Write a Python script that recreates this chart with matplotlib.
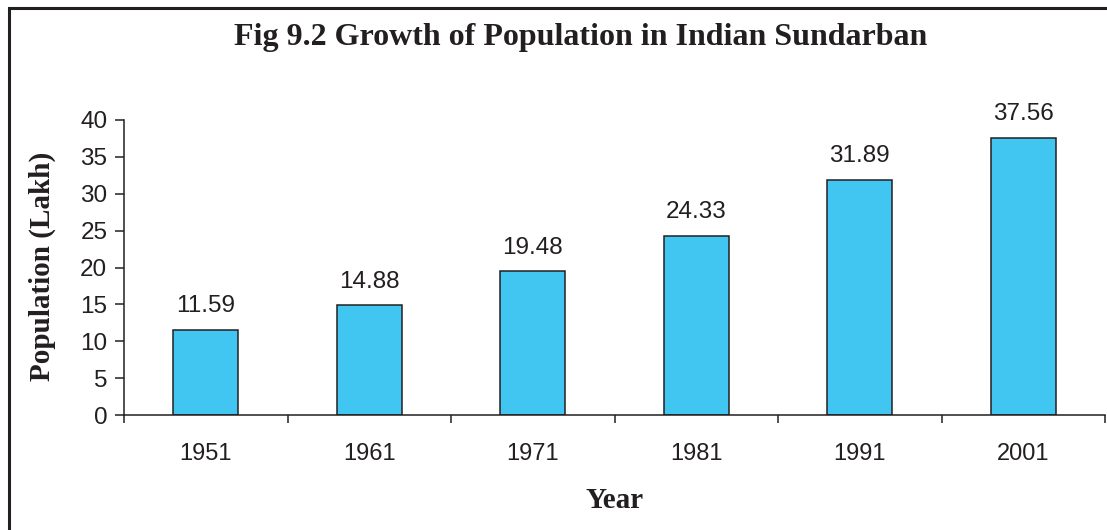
import numpy as np
import matplotlib
matplotlib.use('Agg')
from matplotlib import pyplot as plt
from matplotlib.lines import Line2D

years = ['1951', '1961', '1971', '1981', '1991', '2001']
population = [11.59, 14.88, 19.48, 24.33, 31.89, 37.56]

INK = '#231F20'
BAR = '#41C6F2'
SERIF = 'Liberation Serif'
SANS = 'Liberation Sans'

W, H = 1107, 530
fig = plt.figure(figsize=(W / 100, H / 100), dpi=100)
ax = fig.add_axes([124 / W, 1 - 415 / H, (1105 - 124) / W, (415 - 120) / H])

x = np.arange(len(years))
ax.bar(x, population, width=0.4, color=BAR, edgecolor=INK, linewidth=1.1, zorder=2)
for xi, v in zip(x, population):
    ax.annotate(f'{v:.2f}', (xi, v), xytext=(0, 9), textcoords='offset points',
                ha='center', va='bottom', fontsize=17.5, family=SANS, color=INK)

ax.set_xlim(-0.5, len(years) - 0.5)
ax.set_ylim(0, 40)
ax.set_yticks(range(0, 41, 5))
ax.set_xticks(x)
ax.set_xticklabels(years)
ax.set_xticks(np.arange(-0.5, len(years)), minor=True)

for side in ('top', 'right'):
    ax.spines[side].set_visible(False)
for side in ('left', 'bottom'):
    ax.spines[side].set_color(INK)
    ax.spines[side].set_linewidth(1.1)

ax.tick_params(axis='y', direction='out', length=6.5, width=1.1, color=INK,
               pad=5.5, labelsize=17.5, labelcolor=INK)
ax.tick_params(axis='x', which='major', length=0, pad=20, labelsize=17, labelcolor=INK)
ax.tick_params(axis='x', which='minor', direction='out', length=6, width=1.1, color=INK)
for lab in ax.get_xticklabels() + ax.get_yticklabels():
    lab.set_family(SANS)

fig.text(581 / W, 1 - 37 / H, 'Fig 9.2 Growth of Population in Indian Sundarban',
         ha='center', va='center', fontsize=23, fontweight='bold', family=SERIF, color=INK)
fig.text(42 / W, 1 - 266 / H, 'Population (Lakh)', rotation=90,
         ha='center', va='center', fontsize=21, fontweight='bold', family=SERIF, color=INK)
fig.text(615 / W, 1 - 501 / H, 'Year',
         ha='center', va='center', fontsize=21, fontweight='bold', family=SERIF, color=INK)

# frame along the left and top edges
fig.add_artist(Line2D([9 / W, 9 / W, 1.0], [0.0, 1 - 7.5 / H, 1 - 7.5 / H],
                      transform=fig.transFigure, color=INK, linewidth=2.2,
                      solid_joinstyle='miter'))

fig.savefig('out.png', dpi=100)
